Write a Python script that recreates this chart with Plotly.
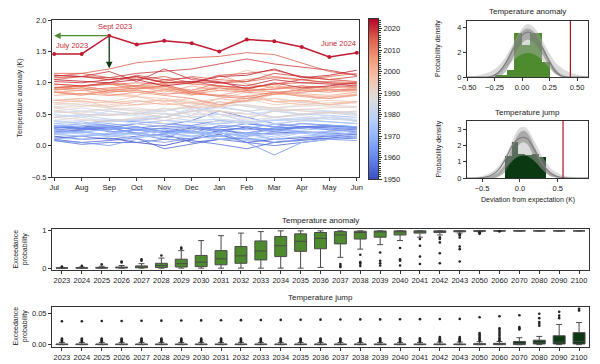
import numpy as np
import plotly.graph_objects as go
from plotly.colors import sample_colorscale

W, H = 600, 364
FONT = "Liberation Sans, Arial, sans-serif"
AX = "#333333"

# ---------------- data: monthly anomaly lines (Jul..Jun), one row per start year ----------------
months = ["Jul", "Aug", "Sep", "Oct", "Nov", "Dec", "Jan", "Feb", "Mar", "Apr", "May", "Jun"]
years = list(range(1950, 2023))
rows = [
    [0.15, 0.10, 0.12, 0.05, 0.00, 0.10, 0.18, 0.05, 0.10, 0.12, 0.15, 0.18],
    [0.28, 0.30, 0.32, 0.25, 0.20, 0.28, 0.22, 0.30, 0.25, 0.30, 0.32, 0.28],
    [0.22, 0.25, 0.28, 0.20, 0.15, 0.10, 0.25, 0.28, 0.22, 0.30, 0.28, 0.25],
    [0.30, 0.28, 0.25, 0.30, 0.22, 0.30, 0.25, 0.18, 0.20, 0.22, 0.20, 0.18],
    [0.12, 0.15, 0.10, 0.15, 0.18, 0.05, 0.10, 0.12, 0.05, 0.08, 0.12, 0.15],
    [0.10, 0.05, 0.08, 0.12, -0.05, 0.02, 0.10, 0.05, 0.00, 0.05, 0.10, 0.12],
    [0.08, 0.02, 0.05, 0.05, 0.10, 0.08, 0.02, -0.05, 0.05, 0.10, 0.12, 0.15],
    [0.25, 0.28, 0.30, 0.28, 0.32, 0.40, 0.55, 0.45, 0.35, 0.30, 0.30, 0.28],
    [0.30, 0.25, 0.28, 0.35, 0.30, 0.32, 0.40, 0.35, 0.30, 0.35, 0.32, 0.30],
    [0.28, 0.30, 0.22, 0.25, 0.28, 0.30, 0.25, 0.20, 0.28, 0.30, 0.25, 0.22],
    [0.20, 0.25, 0.30, 0.18, 0.10, 0.30, 0.28, 0.35, 0.30, 0.28, 0.32, 0.30],
    [0.32, 0.28, 0.30, 0.25, 0.28, 0.20, 0.32, 0.30, 0.25, 0.28, 0.30, 0.30],
    [0.28, 0.32, 0.35, 0.30, 0.22, 0.25, 0.30, 0.25, 0.28, 0.30, 0.25, 0.28],
    [0.30, 0.35, 0.40, 0.38, 0.35, 0.32, 0.22, 0.05, -0.15, 0.05, 0.10, 0.08],
    [0.08, 0.05, 0.00, 0.10, 0.05, 0.12, 0.15, 0.10, 0.05, 0.10, 0.15, 0.12],
    [0.10, 0.15, 0.18, 0.25, 0.20, 0.22, 0.20, 0.15, 0.18, 0.20, 0.22, 0.25],
    [0.25, 0.22, 0.18, 0.20, 0.25, 0.22, 0.15, 0.20, 0.25, 0.22, 0.18, 0.20],
    [0.20, 0.22, 0.25, 0.30, 0.18, 0.25, 0.10, 0.15, 0.30, 0.20, 0.15, 0.22],
    [0.18, 0.15, 0.20, 0.25, 0.20, 0.15, 0.22, 0.28, 0.35, 0.40, 0.38, 0.35],
    [0.35, 0.38, 0.32, 0.35, 0.40, 0.38, 0.35, 0.38, 0.30, 0.35, 0.32, 0.30],
    [0.25, 0.20, 0.28, 0.18, 0.25, 0.20, 0.15, 0.20, 0.10, 0.15, 0.18, 0.20],
    [0.18, 0.22, 0.15, 0.12, 0.18, 0.22, 0.20, 0.15, 0.22, 0.25, 0.28, 0.30],
    [0.30, 0.35, 0.38, 0.40, 0.45, 0.55, 0.62, 0.55, 0.45, 0.50, 0.48, 0.45],
    [0.40, 0.35, 0.30, 0.28, 0.20, 0.15, 0.10, 0.08, 0.12, 0.20, 0.22, 0.18],
    [0.22, 0.18, 0.15, 0.20, 0.15, 0.20, 0.25, 0.10, 0.15, 0.22, 0.18, 0.15],
    [0.12, 0.10, 0.15, 0.18, 0.12, 0.15, 0.20, 0.18, 0.10, 0.05, 0.10, 0.15],
    [0.18, 0.15, 0.20, 0.10, 0.25, 0.30, 0.35, 0.38, 0.40, 0.42, 0.38, 0.35],
    [0.45, 0.48, 0.42, 0.40, 0.45, 0.40, 0.42, 0.38, 0.40, 0.45, 0.42, 0.40],
    [0.35, 0.30, 0.40, 0.42, 0.50, 0.45, 0.50, 0.38, 0.40, 0.42, 0.45, 0.40],
    [0.45, 0.50, 0.48, 0.52, 0.55, 0.62, 0.50, 0.45, 0.55, 0.50, 0.52, 0.48],
    [0.50, 0.45, 0.55, 0.50, 0.60, 0.48, 0.70, 0.62, 0.55, 0.58, 0.55, 0.52],
    [0.52, 0.55, 0.50, 0.48, 0.45, 0.58, 0.40, 0.35, 0.42, 0.38, 0.45, 0.42],
    [0.38, 0.35, 0.40, 0.42, 0.45, 0.60, 0.55, 0.50, 0.55, 0.50, 0.55, 0.50],
    [0.55, 0.60, 0.55, 0.50, 0.52, 0.45, 0.50, 0.40, 0.45, 0.40, 0.48, 0.38],
    [0.38, 0.40, 0.42, 0.35, 0.30, 0.25, 0.42, 0.38, 0.35, 0.40, 0.45, 0.38],
    [0.40, 0.45, 0.38, 0.42, 0.35, 0.40, 0.38, 0.35, 0.45, 0.48, 0.42, 0.45],
    [0.48, 0.45, 0.50, 0.52, 0.45, 0.55, 0.60, 0.55, 0.58, 0.50, 0.52, 0.55],
    [0.62, 0.65, 0.60, 0.58, 0.55, 0.65, 0.70, 0.62, 0.60, 0.65, 0.62, 0.60],
    [0.60, 0.55, 0.58, 0.55, 0.50, 0.52, 0.45, 0.55, 0.60, 0.55, 0.52, 0.50],
    [0.55, 0.52, 0.58, 0.60, 0.55, 0.62, 0.65, 0.70, 0.75, 0.68, 0.65, 0.62],
    [0.65, 0.68, 0.62, 0.70, 0.72, 0.68, 0.62, 0.65, 0.60, 0.62, 0.65, 0.68],
    [0.68, 0.65, 0.60, 0.55, 0.58, 0.60, 0.62, 0.65, 0.58, 0.55, 0.52, 0.50],
    [0.45, 0.42, 0.38, 0.45, 0.40, 0.48, 0.55, 0.50, 0.45, 0.50, 0.52, 0.55],
    [0.55, 0.50, 0.48, 0.52, 0.45, 0.55, 0.55, 0.42, 0.55, 0.58, 0.60, 0.62],
    [0.60, 0.62, 0.65, 0.70, 0.72, 0.68, 0.75, 0.85, 0.70, 0.72, 0.65, 0.70],
    [0.72, 0.75, 0.70, 0.78, 0.75, 0.60, 0.62, 0.75, 0.65, 0.68, 0.72, 0.70],
    [0.68, 0.72, 0.62, 0.65, 0.75, 0.70, 0.68, 0.72, 0.75, 0.70, 0.78, 0.80],
    [0.85, 0.88, 0.92, 0.95, 1.00, 0.98, 1.05, 1.20, 1.10, 1.05, 1.08, 1.00],
    [0.95, 0.90, 0.80, 0.78, 0.70, 0.75, 0.62, 0.80, 0.70, 0.65, 0.68, 0.70],
    [0.72, 0.70, 0.68, 0.72, 0.65, 0.68, 0.62, 0.78, 0.70, 0.72, 0.65, 0.70],
    [0.72, 0.75, 0.70, 0.65, 0.68, 0.62, 0.75, 0.70, 0.82, 0.80, 0.78, 0.82],
    [0.85, 0.88, 0.82, 0.80, 0.90, 0.88, 0.95, 0.90, 0.98, 0.85, 0.88, 0.85],
    [0.85, 0.82, 0.88, 0.85, 0.88, 0.80, 0.95, 0.88, 0.85, 0.82, 0.80, 0.85],
    [0.88, 0.92, 0.90, 0.95, 0.85, 0.95, 0.88, 0.92, 0.85, 0.80, 0.75, 0.82],
    [0.80, 0.82, 0.85, 0.90, 0.95, 0.85, 0.92, 0.85, 0.95, 0.90, 0.88, 0.92],
    [0.92, 0.95, 0.98, 0.95, 0.92, 0.85, 0.80, 0.88, 0.90, 0.92, 0.88, 0.90],
    [0.90, 0.88, 0.92, 0.95, 0.98, 1.00, 1.12, 0.98, 0.92, 0.95, 0.90, 0.88],
    [0.85, 0.82, 0.80, 0.85, 0.80, 0.75, 0.65, 0.72, 0.85, 0.78, 0.75, 0.80],
    [0.85, 0.80, 0.88, 0.92, 0.90, 0.82, 0.88, 0.85, 0.82, 0.85, 0.90, 0.88],
    [0.92, 0.95, 0.98, 0.90, 0.95, 0.88, 1.00, 1.05, 1.10, 1.05, 1.00, 0.98],
    [0.98, 0.95, 0.88, 0.92, 0.95, 0.82, 0.80, 0.78, 0.85, 0.88, 0.85, 0.90],
    [0.90, 0.92, 0.85, 0.88, 0.82, 0.85, 0.78, 0.75, 0.82, 0.90, 0.95, 0.92],
    [0.92, 0.95, 0.98, 1.00, 0.98, 0.85, 0.92, 0.88, 0.90, 0.95, 0.92, 0.95],
    [0.92, 0.95, 1.00, 0.95, 1.05, 0.98, 0.95, 0.92, 0.98, 1.00, 1.02, 1.00],
    [1.05, 1.10, 1.05, 1.08, 1.02, 1.10, 1.05, 1.02, 1.08, 1.05, 1.10, 1.15],
    [1.15, 1.15, 1.22, 1.32, 1.36, 1.40, 1.42, 1.48, 1.45, 1.32, 1.18, 1.12],
    [1.10, 1.15, 1.08, 1.05, 1.10, 1.00, 1.12, 1.15, 1.20, 1.10, 1.05, 1.02],
    [1.08, 1.10, 1.05, 1.10, 1.00, 1.02, 0.95, 0.92, 0.98, 1.05, 1.00, 0.98],
    [0.98, 0.95, 1.00, 1.12, 1.05, 1.08, 1.00, 1.02, 1.15, 1.10, 1.05, 1.10],
    [1.12, 1.10, 1.08, 1.15, 1.18, 1.22, 1.30, 1.38, 1.30, 1.25, 1.20, 1.12],
    [1.12, 1.10, 1.18, 1.02, 1.22, 1.05, 1.02, 0.90, 1.00, 0.92, 0.95, 1.00],
    [1.02, 1.00, 1.05, 1.10, 1.00, 1.02, 1.00, 0.95, 1.05, 1.00, 0.98, 0.95],
    [1.05, 1.02, 1.00, 1.05, 0.95, 1.00, 1.10, 1.12, 1.22, 1.08, 1.12, 1.20],
]
year_2023 = [1.46, 1.46, 1.75, 1.61, 1.67, 1.63, 1.50, 1.69, 1.66, 1.57, 1.41, 1.48]
prev_record_sep = 1.23
cbar_ticks = [1950, 1960, 1970, 1980, 1990, 2000, 2010, 2020]

# ---------------- density panels ----------------
anom_grid = [-0.5, -0.4, -0.3, -0.25, -0.2, -0.15, -0.1, -0.05, 0.0, 0.05, 0.1, 0.15, 0.2, 0.25, 0.3, 0.35, 0.4, 0.5, 0.6]
anom_hi = [0.03, 0.12, 0.38, 0.62, 1.0, 1.6, 2.35, 3.2, 3.9, 4.25, 4.05, 3.5, 2.7, 1.9, 1.2, 0.8, 0.5, 0.2, 0.05]
anom_lo = [0, 0, 0, 0.05, 0.3, 0.7, 1.15, 1.55, 1.82, 1.93, 1.85, 1.6, 1.2, 0.7, 0.25, 0.03, 0, 0, 0]
anom_hi2 = [0, 0, 0, 0.1, 0.5, 1.2, 2.1, 3.0, 3.65, 3.9, 3.7, 3.1, 2.3, 1.4, 0.7, 0.25, 0.05, 0, 0]
anom_lo2 = [0, 0, 0, 0, 0.05, 0.45, 1.2, 2.1, 2.75, 3.0, 2.85, 2.3, 1.6, 0.85, 0.3, 0.05, 0, 0, 0]
anom_med = [0, 0, 0.02, 0.15, 0.5, 1.1, 1.9, 2.75, 3.35, 3.6, 3.45, 2.9, 2.1, 1.25, 0.5, 0.12, 0.02, 0, 0]
anom_hist_edges = [-0.25, -0.14, -0.07, 0.0, 0.07, 0.18, 0.25]
anom_hist_h = [0.2, 0.6, 3.5, 2.6, 3.5, 1.2]
anom_observed = 0.44

jump_grid = [-0.7, -0.6, -0.5, -0.4, -0.3, -0.2, -0.1, -0.05, 0.0, 0.05, 0.1, 0.2, 0.3, 0.4, 0.5, 0.6, 0.7, 0.8, 0.9]
jump_hi = [0.01, 0.04, 0.12, 0.3, 0.65, 1.3, 2.3, 2.8, 3.08, 3.15, 3.0, 2.2, 1.3, 0.65, 0.3, 0.13, 0.06, 0.02, 0.01]
jump_lo = [0, 0, 0, 0, 0.05, 0.55, 1.05, 1.25, 1.35, 1.38, 1.33, 1.0, 0.5, 0.12, 0, 0, 0, 0, 0]
jump_hi2 = [0, 0, 0.02, 0.1, 0.3, 0.85, 1.9, 2.45, 2.8, 2.9, 2.75, 1.85, 0.95, 0.35, 0.1, 0.02, 0, 0, 0]
jump_lo2 = [0, 0, 0, 0, 0.05, 0.35, 1.25, 1.75, 2.1, 2.2, 2.05, 1.2, 0.5, 0.12, 0.02, 0, 0, 0, 0]
jump_med = [0, 0, 0.02, 0.12, 0.42, 1.1, 2.0, 2.3, 2.45, 2.5, 2.4, 1.65, 0.85, 0.32, 0.08, 0.01, 0, 0, 0]
jump_hist_edges = [-0.2, -0.11, -0.02, 0.07, 0.16, 0.25, 0.34]
jump_hist_h = [1.35, 2.2, 1.45, 1.4, 1.5, 1.3]
jump_observed = 0.57

# ---------------- exceedance probability boxes ----------------
box_years = [str(y) for y in range(2023, 2044)] + ["2050", "2060", "2070", "2080", "2090", "2100"]
a_q1 = [0, 0, 0, 0.005, 0.01, 0.015, 0.03, 0.04, 0.09, 0.13, 0.22, 0.31, 0.45, 0.52, 0.65, 0.78, 0.83, 0.89, 0.94, 0.955, 0.975, 0.99, 0.998, 0.999, 1, 1, 1]
a_med = [0.002, 0.004, 0.008, 0.015, 0.03, 0.07, 0.12, 0.16, 0.25, 0.33, 0.46, 0.60, 0.72, 0.80, 0.89, 0.955, 0.98, 0.99, 0.995, 0.997, 0.998, 1, 1, 1, 1, 1, 1]
a_q3 = [0.008, 0.012, 0.02, 0.03, 0.06, 0.13, 0.24, 0.34, 0.47, 0.58, 0.73, 0.85, 0.92, 0.955, 0.98, 0.99, 0.997, 1, 1, 1, 1, 1, 1, 1, 1, 1, 1]
a_lo = [0, 0, 0, 0, 0, 0, 0, 0, 0, 0, 0, 0, 0.0, 0.02, 0.29, 0.51, 0.63, 0.74, 0.83, 0.89, 0.94, 0.975, 0.995, 0.998, 1, 1, 1]
a_hi = [0.02, 0.03, 0.05, 0.07, 0.12, 0.27, 0.47, 0.74, 0.87, 0.94, 0.98, 1, 1, 1, 1, 1, 1, 1, 1, 1, 1, 1, 1, 1, 1, 1, 1]
a_out = [[0.04], [0.06], [0.1], [0.15, 0.18], [0.2, 0.24], [0.34], [0.52, 0.55], [], [], [], [], [], [], [],
         [0.11, 0.06, 0.03], [0.36, 0.16, 0.12, 0.06], [0.42, 0.2, 0.13, 0.07], [0.54, 0.24, 0.2, 0.07],
         [0.78, 0.6, 0.31, 0.11], [0.83, 0.78, 0.69, 0.40, 0.13], [0.91, 0.875, 0.82, 0.58, 0.51, 0.18],
         [0.94, 0.92, 0.96], [0.985], [], [], [], []]

j_q1 = [0] * 21 + [0, 0, 0, 0.001, 0.001, 0.001]
j_med = [0.0003] * 21 + [0.0005, 0.0008, 0.0015, 0.003, 0.004, 0.005]
j_q3 = [0.001] * 21 + [0.0015, 0.002, 0.005, 0.007, 0.014, 0.019]
j_lo = [0] * 27
j_hi = [0.0035] * 19 + [0.004, 0.004, 0.0045, 0.005, 0.011, 0.013, 0.032, 0.035]
j_out = [[0.005, 0.0065, 0.008, 0.0095, 0.037], [0.005, 0.0065, 0.008, 0.0095, 0.0372], [0.005, 0.0065, 0.008, 0.0095, 0.0374],
         [0.005, 0.0065, 0.008, 0.0095, 0.0376], [0.005, 0.0065, 0.008, 0.0095, 0.0378], [0.005, 0.0065, 0.008, 0.0095, 0.038],
         [0.005, 0.0065, 0.008, 0.0095, 0.0382], [0.005, 0.0065, 0.008, 0.0095, 0.0384], [0.005, 0.0065, 0.008, 0.0095, 0.0386],
         [0.005, 0.0065, 0.008, 0.0095, 0.0388], [0.005, 0.0065, 0.008, 0.0095, 0.039], [0.005, 0.0065, 0.008, 0.0098, 0.0392],
         [0.005, 0.0065, 0.008, 0.0098, 0.0394], [0.005, 0.0065, 0.008, 0.0098, 0.0396], [0.005, 0.0065, 0.008, 0.0098, 0.0398],
         [0.005, 0.0065, 0.008, 0.0098, 0.04], [0.005, 0.0065, 0.008, 0.01, 0.04], [0.005, 0.0065, 0.008, 0.01, 0.0402],
         [0.005, 0.0065, 0.008, 0.01, 0.0404], [0.0055, 0.007, 0.0085, 0.01, 0.012, 0.0406], [0.0055, 0.007, 0.0085, 0.01, 0.012, 0.0408],
         [0.006, 0.008, 0.01, 0.012, 0.014, 0.0165, 0.0185, 0.0435], [0.007, 0.009, 0.011, 0.014, 0.017, 0.02, 0.023, 0.026, 0.045],
         [0.024, 0.026, 0.028, 0.0465], [0.03, 0.033, 0.036, 0.042, 0.049], [0.042, 0.046, 0.052], [0.054, 0.057]]

# ---------------- styling helpers ----------------
COOLWARM = [[0.0, "#3b4cc0"], [0.125, "#6282ea"], [0.25, "#8db0fe"], [0.375, "#b8d0f9"], [0.5, "#dddddd"],
            [0.625, "#f5c4ad"], [0.75, "#f49a7b"], [0.875, "#de604d"], [1.0, "#b40426"]]
YMIN, YMAX = 1950, 2024.5
GREEN = "#4e8a2e"
DKGREEN = "#0b3a12"
RED_TXT = "#c42a3a"


def dx(a, b):
    return [a / W, b / W]


def dy(top, bottom):
    return [1 - bottom / H, 1 - top / H]


def frame(**kw):
    base = dict(showline=True, mirror=True, linecolor=AX, linewidth=1, ticks="outside", ticklen=3,
                tickcolor=AX, tickwidth=1, showgrid=False, zeroline=False,
                tickfont=dict(size=7.5, color="#222"), automargin=False)
    base.update(kw)
    return base


fig = go.Figure()

# main lines
for yr, row in zip(years, rows):
    col = sample_colorscale(COOLWARM, [(yr - YMIN) / (YMAX - YMIN)])[0]
    fig.add_trace(go.Scatter(x=list(range(len(months))), y=row, mode="lines",
                             line=dict(color=col, width=1), opacity=0.8,
                             hoverinfo="skip", showlegend=False, xaxis="x", yaxis="y"))
fig.add_trace(go.Scatter(x=list(range(len(months))), y=year_2023, mode="lines+markers",
                         line=dict(color="#c01a30", width=1.5), marker=dict(size=4, color="#c01a30"),
                         showlegend=False, xaxis="x", yaxis="y"))

# colour bar as heatmap
cb_vals = np.linspace(YMIN, YMAX, 300)
fig.add_trace(go.Heatmap(x=[0], y=cb_vals, z=[[v] for v in cb_vals], colorscale=COOLWARM,
                         zmin=YMIN, zmax=YMAX, showscale=False, hoverinfo="skip",
                         xaxis="x2", yaxis="y2"))


def density_panel(xa, ya, grid, hi, lo, hi2, lo2, med, edges, heights, hcolor):
    centers = [(edges[i] + edges[i + 1]) / 2 for i in range(len(heights))]
    widths = [edges[i + 1] - edges[i] for i in range(len(heights))]
    fig.add_trace(go.Bar(x=centers, y=heights, width=widths, marker=dict(color=hcolor, line=dict(width=0)),
                         showlegend=False, hoverinfo="skip", xaxis=xa, yaxis=ya))
    fig.add_trace(go.Scatter(x=grid, y=lo, mode="lines", line=dict(width=0, shape="spline"),
                             showlegend=False, hoverinfo="skip", xaxis=xa, yaxis=ya))
    fig.add_trace(go.Scatter(x=grid, y=hi, mode="lines", line=dict(width=0, shape="spline"), fill="tonexty",
                             fillcolor="rgba(175,175,175,0.45)", showlegend=False, hoverinfo="skip",
                             xaxis=xa, yaxis=ya))
    fig.add_trace(go.Scatter(x=grid, y=lo2, mode="lines", line=dict(width=0, shape="spline"),
                             showlegend=False, hoverinfo="skip", xaxis=xa, yaxis=ya))
    fig.add_trace(go.Scatter(x=grid, y=hi2, mode="lines", line=dict(width=0, shape="spline"), fill="tonexty",
                             fillcolor="rgba(110,110,110,0.45)", showlegend=False, hoverinfo="skip",
                             xaxis=xa, yaxis=ya))
    fig.add_trace(go.Scatter(x=grid, y=med, mode="lines", line=dict(width=1.2, color="#7f7f7f", shape="spline"),
                             showlegend=False, hoverinfo="skip", xaxis=xa, yaxis=ya))


density_panel("x3", "y3", anom_grid, anom_hi, anom_lo, anom_hi2, anom_lo2, anom_med,
              anom_hist_edges, anom_hist_h, GREEN)
density_panel("x4", "y4", jump_grid, jump_hi, jump_lo, jump_hi2, jump_lo2, jump_med,
              jump_hist_edges, jump_hist_h, DKGREEN)


def box_panel(xa, ya, q1, med, q3, lo, hi, outs, fillc):
    fig.add_trace(go.Box(x=box_years, q1=q1, median=med, q3=q3, lowerfence=lo, upperfence=hi,
                         fillcolor=fillc, line=dict(color="#4a4a4a", width=1), width=0.6, whiskerwidth=0.5,
                         showlegend=False, hoverinfo="skip", xaxis=xa, yaxis=ya))
    ox, oy = [], []
    for cat, vals in zip(box_years, outs):
        for v in vals:
            ox.append(cat)
            oy.append(v)
    fig.add_trace(go.Scatter(x=ox, y=oy, mode="markers", marker=dict(size=2.6, color="#222"),
                             showlegend=False, hoverinfo="skip", xaxis=xa, yaxis=ya))


box_panel("x5", "y5", a_q1, a_med, a_q3, a_lo, a_hi, a_out, GREEN)
box_panel("x6", "y6", j_q1, j_med, j_q3, j_lo, j_hi, j_out, DKGREEN)

# ---------------- layout ----------------
fig.update_layout(
    width=W, height=H, margin=dict(l=0, r=0, t=0, b=0), paper_bgcolor="white", plot_bgcolor="white",
    font=dict(family=FONT, size=7.5, color="#222"), bargap=0,
    xaxis=frame(domain=dx(52, 359), anchor="y", range=[-0.08, 11.08],
                tickvals=list(range(len(months))), ticktext=months),
    yaxis=frame(domain=dy(20, 177), anchor="x", range=[-0.5, 2.0], dtick=0.5, tickformat=".1f"),
    xaxis2=frame(domain=dx(369, 378), anchor="y2", range=[-0.5, 0.5], showticklabels=False, ticks=""),
    yaxis2=frame(domain=dy(19, 179), anchor="x2", side="right", range=[YMIN, YMAX], tickvals=cbar_ticks,
                 minor=dict(dtick=1, ticklen=1.5, ticks="outside", tickcolor=AX, showgrid=False)),
    xaxis3=frame(domain=dx(467, 588), anchor="y3", range=[-0.5, 0.6], tickvals=[-0.5, -0.25, 0, 0.25, 0.5],
                 tickformat=".2f"),
    yaxis3=frame(domain=dy(21, 77), anchor="x3", range=[0, 4.5], tickvals=[0, 2, 4]),
    xaxis4=frame(domain=dx(467, 588), anchor="y4", range=[-0.7, 0.9], tickvals=[-0.5, 0, 0.5], tickformat=".1f"),
    yaxis4=frame(domain=dy(121, 178), anchor="x4", range=[0, 3.5], tickvals=[0, 1, 2, 3]),
    xaxis5=frame(domain=dx(52, 589), anchor="y5", type="category", range=[-0.5, len(box_years) - 0.5]),
    yaxis5=frame(domain=dy(229, 270), anchor="x5", range=[-0.05, 1.05], tickvals=[0, 1]),
    xaxis6=frame(domain=dx(52, 589), anchor="y6", type="category", range=[-0.5, len(box_years) - 0.5]),
    yaxis6=frame(domain=dy(306.5, 346.5), anchor="x6", range=[-0.003, 0.0605], tickvals=[0, 0.05],
                 tickformat=".2f"),
)

# observed-value lines
for xa, val in (("x3", anom_observed), ("x4", jump_observed)):
    ya = "y3" if xa == "x3" else "y4"
    fig.add_shape(type="line", xref=xa, yref=ya + " domain", x0=val, x1=val, y0=0, y1=1,
                  line=dict(color="#b01020", width=1.2))

ann = []


def text_px(x, y, s, size=7.5, angle=0, color="#222", xanchor="center"):
    ann.append(dict(x=x / W, y=1 - y / H, xref="paper", yref="paper", text=s, showarrow=False,
                    font=dict(size=size, color=color, family=FONT), textangle=angle,
                    xanchor=xanchor, yanchor="middle"))


text_px(20, 98.5, "Temperature anomaly (K)", 7, -90)
text_px(438, 49, "Probability density", 7, -90)
text_px(438, 149.5, "Probability density", 7, -90)
text_px(527.5, 200, "Deviation from expectation (K)", 7)
text_px(527.5, 11, "Temperature anomaly", 8)
text_px(527.5, 112, "Temperature jump", 8)
text_px(320.5, 220, "Temperature anomaly", 8)
text_px(320.5, 297.5, "Temperature jump", 8)
text_px(20, 249.5, "Exceedance<br>probability", 7, -90)
text_px(20, 326.5, "Exceedance<br>probability", 7, -90)

# in-plot labels
ann.append(dict(x=0, y=1.6, xref="x", yref="y", text="July 2023", showarrow=False, xanchor="left",
                yanchor="middle", font=dict(size=7.5, color=RED_TXT, family=FONT)))
ann.append(dict(x=2.2, y=1.9, xref="x", yref="y", text="Sept 2023", showarrow=False, xanchor="center",
                yanchor="middle", font=dict(size=7.5, color=RED_TXT, family=FONT)))
ann.append(dict(x=11.05, y=1.62, xref="x", yref="y", text="June 2024", showarrow=False, xanchor="right",
                yanchor="middle", font=dict(size=7.5, color=RED_TXT, family=FONT)))
# arrows
ann.append(dict(x=0, y=year_2023[2], ax=2, ay=year_2023[2], xref="x", yref="y", axref="x", ayref="y",
                text="", showarrow=True, arrowhead=2, arrowsize=1, arrowwidth=1.3, arrowcolor=GREEN))
ann.append(dict(x=2, y=prev_record_sep, ax=2, ay=year_2023[2], xref="x", yref="y", axref="x", ayref="y",
                text="", showarrow=True, arrowhead=2, arrowsize=1, arrowwidth=1.3, arrowcolor=DKGREEN))
fig.update_layout(annotations=ann)

fig.write_html("out.html", config={"displayModeBar": False},
               post_script="document.body.style.margin='0';document.body.style.padding='0';")
